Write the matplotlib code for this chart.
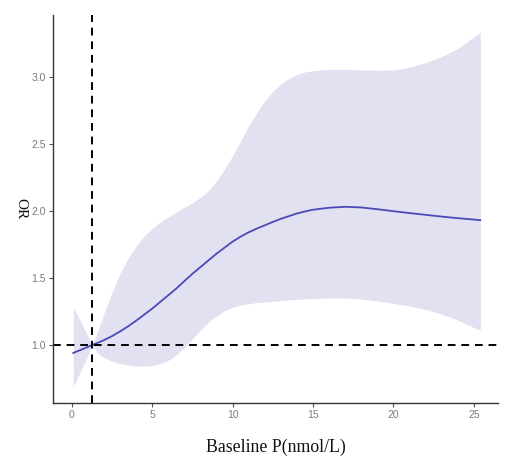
import matplotlib
matplotlib.use("Agg")
import matplotlib.pyplot as plt

# Restricted cubic spline fit: odds ratio vs baseline P, with 95% CI band
baseline_p = [0.1, 0.5, 1.0, 1.28, 1.6, 2.0, 2.5, 3, 3.5, 4, 4.5, 5, 5.5, 6, 6.5,
              7, 7.5, 8, 8.5, 9, 9.5, 10, 10.5, 11, 11.5, 12, 12.5, 13, 13.5,
              14, 14.5, 15, 16, 17, 18, 19, 20, 21, 22, 23, 24, 25, 25.4]
odds_ratio = [0.94, 0.96, 0.985, 1.0, 1.015, 1.035, 1.065, 1.10, 1.138, 1.18,
              1.225, 1.27, 1.32, 1.37, 1.42, 1.475, 1.53, 1.58, 1.63, 1.68,
              1.725, 1.77, 1.807, 1.84, 1.867, 1.892, 1.917, 1.94, 1.96, 1.98,
              1.995, 2.008, 2.023, 2.03, 2.025, 2.012, 1.997, 1.983, 1.97,
              1.957, 1.945, 1.935, 1.93]
ci_upper = [1.28, 1.19, 1.07, 1.00, 1.10, 1.23, 1.39, 1.53, 1.645, 1.735, 1.81,
            1.87, 1.915, 1.955, 1.99, 2.025, 2.06, 2.10, 2.15, 2.22, 2.31, 2.41,
            2.52, 2.63, 2.73, 2.82, 2.89, 2.945, 2.985, 3.015, 3.035, 3.045,
            3.055, 3.055, 3.05, 3.048, 3.05, 3.07, 3.105, 3.15, 3.21, 3.295, 3.33]
ci_lower = [0.69, 0.79, 0.92, 1.00, 0.94, 0.905, 0.88, 0.862, 0.85, 0.843, 0.842,
            0.846, 0.86, 0.885, 0.925, 0.98, 1.045, 1.11, 1.17, 1.215, 1.255,
            1.28, 1.297, 1.308, 1.315, 1.32, 1.325, 1.33, 1.335, 1.34, 1.343,
            1.346, 1.35, 1.35, 1.342, 1.328, 1.31, 1.29, 1.265, 1.23, 1.185,
            1.13, 1.11]
ref_p = 1.28
ref_or = 1.0

x_ticks = [0, 5, 10, 15, 20, 25]
y_ticks = [1.0, 1.5, 2.0, 2.5, 3.0]

fig = plt.figure(figsize=(5.05, 4.57), dpi=100)
ax = fig.add_axes([53 / 505, 54 / 457, 445 / 505, 388 / 457])

ax.fill_between(baseline_p, ci_lower, ci_upper, color="#e1e1f2", linewidth=0)
ax.plot(baseline_p, odds_ratio, color="#4a4ab6", linewidth=1.3)
ax.axhline(ref_or, color="black", linewidth=1.4, linestyle=(0, (4, 3)))
ax.axvline(ref_p, color="black", linewidth=1.4, linestyle=(0, (4, 3)))

ax.set_xlim(-1.16, 26.5)
ax.set_ylim(0.567, 3.46)
ax.set_xticks(x_ticks)
ax.set_xticklabels([str(t) for t in x_ticks])
ax.set_yticks(y_ticks)
ax.set_yticklabels([f"{t:.1f}" for t in y_ticks])

for side in ("top", "right"):
    ax.spines[side].set_visible(False)
for side in ("left", "bottom"):
    ax.spines[side].set_color("#333333")
    ax.spines[side].set_linewidth(1.0)

ax.tick_params(axis="both", length=3, width=0.8, color="#555555",
               labelcolor="#7a7a7a", labelsize=7.5, pad=2)
for lbl in ax.get_xticklabels() + ax.get_yticklabels():
    lbl.set_fontfamily("Liberation Sans")

ax.set_xlabel("Baseline P(nmol/L)", fontfamily="Liberation Serif",
              fontsize=12.8, color="#111111")
ax.xaxis.set_label_coords(0.5, -0.093)
ax.set_ylabel("OR", fontfamily="Liberation Serif", fontsize=11,
              color="#111111", rotation=-90, va="center", ha="center")
ax.yaxis.set_label_coords(-0.072, 0.5)

fig.savefig("out.png", dpi=100)
